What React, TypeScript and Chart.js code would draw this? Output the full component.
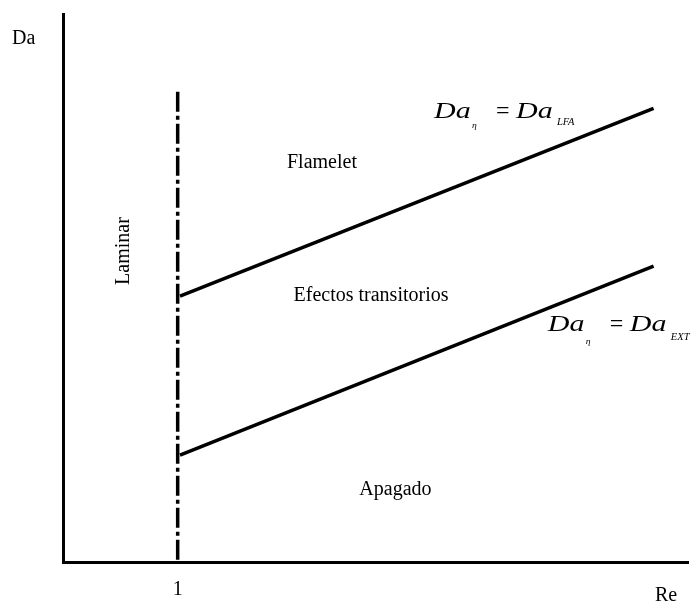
import React, { useEffect, useRef } from "react";
import { Chart, registerables } from "chart.js";

Chart.register(...registerables);

// ---- data ----
const boundaryRe = [1.02, 5.15];          // Re at start / end of both boundary lines
const lfaDa = [4.85, 8.28];               // Da_eta = Da_LFA line
const extDa = [1.95, 5.4];                // Da_eta = Da_EXT line
const laminarRe = [1, 1];                 // vertical laminar limit (Re = 1)
const laminarDa = [8.58, 0];
const xTickValues = [1];
const xTickLabels = ["1"];

const SERIF = "'Liberation Serif', 'Times New Roman', serif";

// annotation placements (data coordinates)
const regionLabels = [
  { text: "Flamelet", x: 2.258, y: 7.19 },
  { text: "Efectos transitorios", x: 2.686, y: 4.763 },
  { text: "Apagado", x: 2.899, y: 1.223 },
];
const laminarLabel = { text: "Laminar", x: 0.5755, y: 5.675 };
const equations = [
  { sub: "LFA", x: 3.235, y: 8.102, subDy: 7, etaDy: 10 },
  { sub: "EXT", x: 4.228, y: 4.215, subDy: 9, etaDy: 13 },
];

const textPlugin = {
  id: "textPlugin",
  afterDraw(chart: any) {
    const { ctx, scales } = chart;
    const xs = scales.x;
    const ys = scales.y;
    const area = chart.chartArea;
    ctx.save();
    ctx.fillStyle = "#000";
    ctx.textBaseline = "alphabetic";

    const put = (t: string, px: number, py: number, font: string, sx: number, align: CanvasTextAlign = "left") => {
      ctx.save();
      ctx.translate(px, py);
      ctx.scale(sx, 1);
      ctx.font = font;
      ctx.textAlign = align;
      ctx.fillText(t, 0, 0);
      ctx.restore();
    };

    // axis names
    put("Da", area.left - 51, area.top + 30, `20px ${SERIF}`, 1);
    put("Re", area.right - 33, area.bottom + 39, `20px ${SERIF}`, 1);

    // region labels
    regionLabels.forEach((r) => {
      put(r.text, xs.getPixelForValue(r.x), ys.getPixelForValue(r.y), `20px ${SERIF}`, 1, "center");
    });

    // rotated Laminar
    ctx.save();
    ctx.translate(xs.getPixelForValue(laminarLabel.x), ys.getPixelForValue(laminarLabel.y));
    ctx.rotate(-Math.PI / 2);
    ctx.font = `20px ${SERIF}`;
    ctx.textAlign = "center";
    ctx.fillText(laminarLabel.text, 0, 0);
    ctx.restore();

    // equations
    equations.forEach((e) => {
      const px = xs.getPixelForValue(e.x);
      const py = ys.getPixelForValue(e.y);
      put("Da", px, py, `italic 24px ${SERIF}`, 1.25);
      put("η", px + 38, py + e.etaDy, `italic 8px ${SERIF}`, 1.2);
      put("=", px + 62, py, `24px ${SERIF}`, 1);
      put("Da", px + 82, py, `italic 24px ${SERIF}`, 1.25);
      put(e.sub, px + 123, py + e.subDy, `italic 10px ${SERIF}`, 1.05);
    });
    ctx.restore();
  },
};

export default function App() {
  const ref = useRef<HTMLCanvasElement | null>(null);

  useEffect(() => {
    if (!ref.current) return;
    const chart = new Chart(ref.current, {
      type: "line",
      data: {
        datasets: [
          {
            label: "Da_LFA",
            data: boundaryRe.map((x, i) => ({ x, y: lfaDa[i] })),
            borderColor: "#000",
            borderWidth: 3.5,
            pointRadius: 0,
          },
          {
            label: "Da_EXT",
            data: boundaryRe.map((x, i) => ({ x, y: extDa[i] })),
            borderColor: "#000",
            borderWidth: 3.5,
            pointRadius: 0,
          },
          {
            label: "Laminar",
            data: laminarRe.map((x, i) => ({ x, y: laminarDa[i] })),
            borderColor: "#000",
            borderWidth: 3.5,
            borderDash: [20, 4, 4, 4],
            pointRadius: 0,
          },
        ],
      },
      options: {
        animation: false,
        responsive: false,
        events: [],
        layout: { padding: { left: 63, top: 14, right: 5, bottom: 0 } },
        plugins: { legend: { display: false }, tooltip: { enabled: false } },
        scales: {
          x: {
            type: "linear",
            min: 0,
            max: 5.45,
            grid: { display: false, drawTicks: false },
            border: { display: true, color: "#000", width: 3 },
            afterBuildTicks: (scale: any) => {
              scale.ticks = xTickValues.map((v) => ({ value: v }));
            },
            afterFit: (scale: any) => {
              scale.height = 40;
            },
            ticks: {
              color: "#000",
              padding: 16,
              font: { family: SERIF, size: 20 },
              callback: (v: any) => {
                const i = xTickValues.indexOf(Number(v));
                return i >= 0 ? xTickLabels[i] : "";
              },
            },
          },
          y: {
            type: "linear",
            min: 0,
            max: 10,
            grid: { display: false, drawTicks: false },
            border: { display: true, color: "#000", width: 3 },
            ticks: { display: false },
            afterFit: (scale: any) => {
              scale.width = 0;
            },
          },
        },
      },
      plugins: [textPlugin],
    });
    return () => chart.destroy();
  }, []);

  return (
    <div style={{ position: "fixed", left: 0, top: 0, width: 693, height: 602, background: "#fff" }}>
      <canvas ref={ref} width={693} height={602} style={{ display: "block" }} />
    </div>
  );
}
